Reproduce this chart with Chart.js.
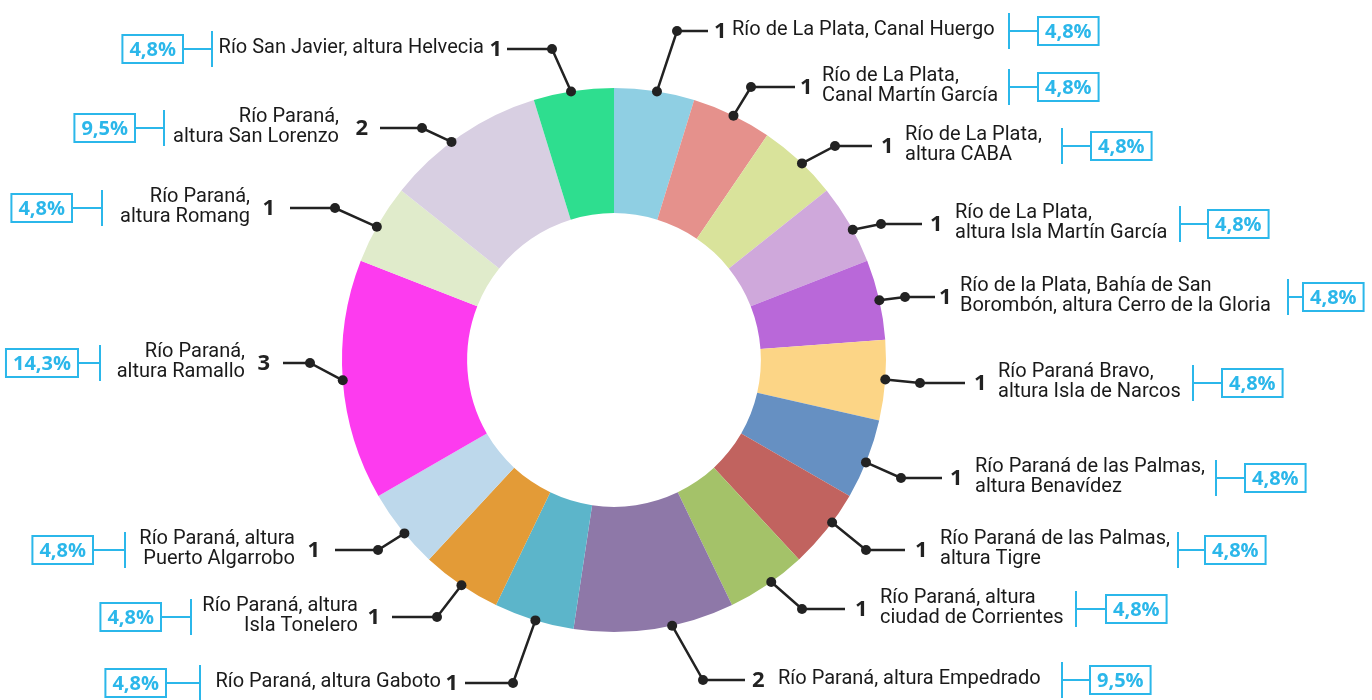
<!DOCTYPE html>
<html>
<head>
<meta charset="utf-8">
<script src="https://cdn.jsdelivr.net/npm/chart.js@4"></script>
<style>
  body { margin: 0; background: #fff; }
  #wrap { width: 1372px; height: 700px; }
</style>
</head>
<body>
<div id="wrap"><canvas id="chart" width="1372" height="700"></canvas></div>
<script>
// categories, clockwise from 12 o'clock
const places = [
  ["Río de La Plata, Canal Huergo"],
  ["Río de La Plata,", "Canal Martín García"],
  ["Río de La Plata,", "altura CABA"],
  ["Río de La Plata,", "altura Isla Martín García"],
  ["Río de la Plata, Bahía de San", "Borombón, altura Cerro de la Gloria"],
  ["Río Paraná Bravo,", "altura Isla de Narcos"],
  ["Río Paraná de las Palmas,", "altura Benavídez"],
  ["Río Paraná de las Palmas,", "altura Tigre"],
  ["Río Paraná, altura", "ciudad de Corrientes"],
  ["Río Paraná, altura Empedrado"],
  ["Río Paraná, altura Gaboto"],
  ["Río Paraná, altura", "Isla Tonelero"],
  ["Río Paraná, altura", "Puerto Algarrobo"],
  ["Río Paraná,", "altura Ramallo"],
  ["Río Paraná,", "altura Romang"],
  ["Río Paraná,", "altura San Lorenzo"],
  ["Río San Javier, altura Helvecia"]
];
const counts = [1, 1, 1, 1, 1, 1, 1, 1, 1, 2, 1, 1, 1, 3, 1, 2, 1];
const colors = [
  "#8fcfe3", "#e5918c", "#d9e39b", "#cfa8db", "#b968d9", "#fcd586",
  "#6690c2", "#c1635f", "#a4c269", "#8e78a8", "#5cb5ca", "#e39b37",
  "#bdd8eb", "#fd3bef", "#e0ebcb", "#d8cfe2", "#2ede8f"
];

// label layout: where the leader dot sits along the arc, elbow, and text columns
// [frac, elbowX, elbowY, lineEndX, numX, textX, bracketX, boxX]
const labelPos = [
  [0.53, 677, 31, 708, 714, 732, 1009, 1038],
  [0.52, 751, 87, 795, 800, 822, 1009, 1038],
  [0.55, 835, 146, 872, 881, 905, 1062, 1091],
  [0.58, 881, 224, 922, 930, 955, 1180, 1208],
  [0.51, 905, 297, 935, 939, 960, 1288, 1303],
  [0.49, 920, 383, 965, 974, 998, 1193, 1222],
  [0.54, 901, 478, 942, 950, 975, 1216, 1245],
  [0.39, 866, 550, 905, 915, 940, 1178, 1205],
  [0.44, 802, 609, 845, 855, 880, 1076, 1106],
  [0.39, 703, 680, 745, 752, 778, 1062, 1090],
  [0.48, 513, 683, 465, 458, 441, 200, 166],
  [0.49, 437, 617, 392, 380, 358, 191, 161],
  [0.44, 378, 550, 335, 320, 295, 125, 93],
  [0.50, 310, 363, 283, 270, 245, 100, 78],
  [0.46, 335, 208, 290, 275, 250, 102, 72],
  [0.43, 422, 128, 380, 368, 339, 164, 135],
  [0.47, 552, 49, 507, 502, 484, 212, 183]
];
const RIGHT_COUNT = 10;

const total = counts.reduce((a, b) => a + b, 0);
const dark = "#222222";
const cyan = "#2bb7ea";

const leaderLabels = {
  id: "leaderLabels",
  afterDatasetsDraw(chart) {
    const ctx = chart.ctx;
    const meta = chart.getDatasetMeta(0);
    ctx.save();
    meta.data.forEach((arc, i) => {
      const [frac, ex, ey, lineEnd, numX, textX, brX, boxX] = labelPos[i];
      const right = i < RIGHT_COUNT;
      const a = arc.startAngle + frac * (arc.endAngle - arc.startAngle);
      const px = arc.x + Math.cos(a) * arc.outerRadius;
      const py = arc.y + Math.sin(a) * arc.outerRadius;

      // leader
      ctx.strokeStyle = dark;
      ctx.lineWidth = 2.5;
      ctx.beginPath();
      ctx.moveTo(px, py);
      ctx.lineTo(ex, ey);
      ctx.lineTo(lineEnd, ey);
      ctx.stroke();
      ctx.fillStyle = dark;
      [[px, py], [ex, ey]].forEach(([x, y]) => {
        ctx.beginPath();
        ctx.arc(x, y, 5, 0, Math.PI * 2);
        ctx.fill();
      });

      // count
      ctx.textBaseline = "middle";
      ctx.font = "bold 22px 'Open Sans'";
      ctx.textAlign = right ? "left" : "right";
      ctx.fillText(String(counts[i]), numX, ey + 1);

      // name
      ctx.font = "20px Roboto";
      ctx.fillStyle = "#1a1a1a";
      const lines = places[i];
      const lh = 20.5;
      lines.forEach((ln, k) => {
        const y = ey - ((lines.length - 1) * lh) / 2 + k * lh - 1;
        ctx.fillText(ln, textX, y);
      });

      // bracket + percent box
      const pct = (counts[i] / total * 100).toFixed(1).replace(".", ",") + "%";
      ctx.font = "bold 20px 'Open Sans'";
      const tw = ctx.measureText(pct).width;
      const bw = tw + 14, bh = 28;
      const bx = right ? boxX : boxX - bw;
      ctx.strokeStyle = cyan;
      ctx.lineWidth = 2;
      ctx.beginPath();
      ctx.moveTo(brX, ey - 18);
      ctx.lineTo(brX, ey + 18);
      ctx.moveTo(brX, ey);
      ctx.lineTo(right ? bx : bx + bw, ey);
      ctx.stroke();
      ctx.strokeRect(bx, ey - bh / 2, bw, bh);
      ctx.fillStyle = cyan;
      ctx.textAlign = "center";
      ctx.fillText(pct, bx + bw / 2, ey + 1);
    });
    ctx.restore();
  }
};

new Chart(document.getElementById("chart"), {
  type: "doughnut",
  data: {
    labels: places.map((p) => p.join(" ")),
    datasets: [{
      data: counts,
      backgroundColor: colors,
      borderWidth: 0
    }]
  },
  options: {
    responsive: false,
    animation: false,
    cutout: "54%",
    layout: { padding: { left: 342, right: 486, top: 88, bottom: 68 } },
    plugins: {
      legend: { display: false },
      tooltip: { enabled: false }
    }
  },
  plugins: [leaderLabels]
});
</script>
</body>
</html>
